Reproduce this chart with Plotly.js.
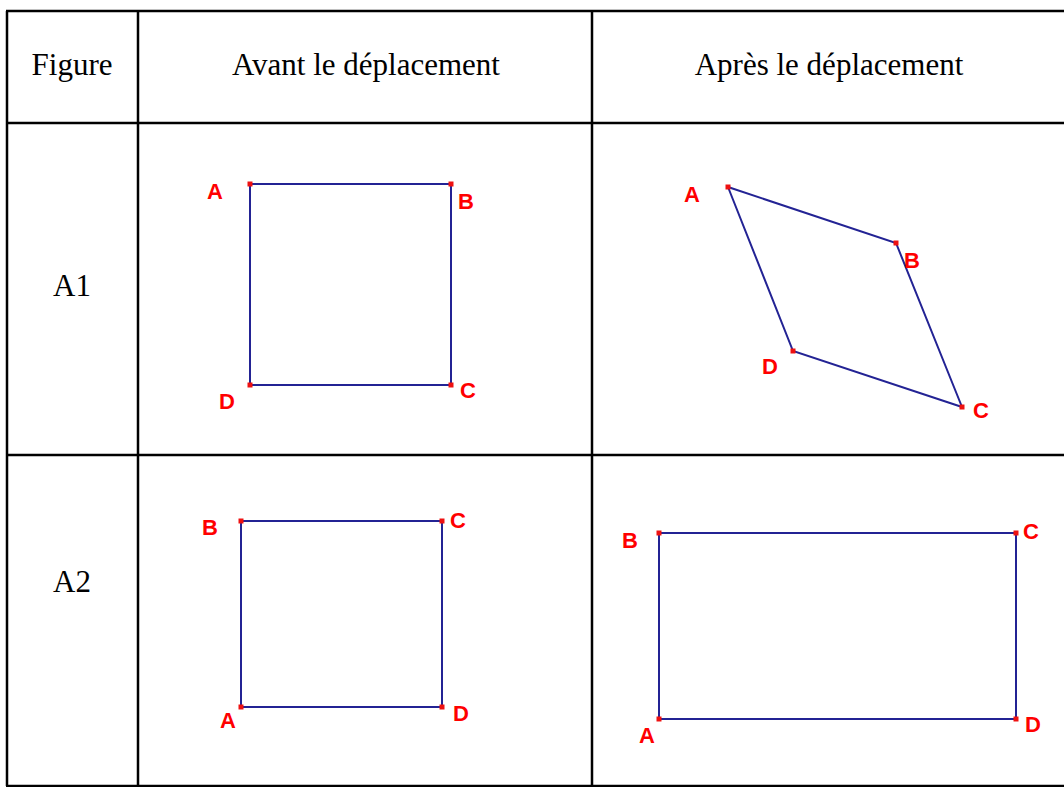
<!DOCTYPE html>
<html>
<head>
<meta charset="utf-8">
<script src="https://cdn.plot.ly/plotly-3.0.1.min.js"></script>
<style>
  html, body { margin: 0; padding: 0; background: #fff; }
  #plotArea { width: 1064px; height: 787px; }
</style>
</head>
<body>
<div id="plotArea"></div>
<script>
// Table grid (page pixels)
var colEdges = [7, 138, 592, 1064];
var rowEdges = [11, 123, 455, 786];

// Header and row labels
var headers = ["Figure", "Avant le déplacement", "Après le déplacement"];
var headerX = [72, 366, 829];
var headerY = 67;
var rowNames = ["A1", "A2"];
var rowNameY = [288, 584];

// Vertices, in order A, B, C, D
var pointNames = ["A", "B", "C", "D"];

var a1AvantX = [250, 451, 451, 250];
var a1AvantY = [184, 184, 385, 385];
var a1AvantLabelX = [215, 466, 468, 227];
var a1AvantLabelY = [193, 203, 392, 403];

var a1ApresX = [728, 896, 962, 793];
var a1ApresY = [187, 243, 407, 351];
var a1ApresLabelX = [692, 912, 981, 770];
var a1ApresLabelY = [196, 262, 412, 368];

var a2AvantX = [241, 241, 442, 442];
var a2AvantY = [707, 521, 521, 707];
var a2AvantLabelX = [228, 210, 458, 461];
var a2AvantLabelY = [722, 529, 522, 715];

var a2ApresX = [659, 659, 1016, 1016];
var a2ApresY = [719, 533, 533, 719];
var a2ApresLabelX = [647, 630, 1031, 1033];
var a2ApresLabelY = [737, 542, 533, 726];

var figures = [
    {x: a1AvantX, y: a1AvantY, lx: a1AvantLabelX, ly: a1AvantLabelY},
    {x: a1ApresX, y: a1ApresY, lx: a1ApresLabelX, ly: a1ApresLabelY},
    {x: a2AvantX, y: a2AvantY, lx: a2AvantLabelX, ly: a2AvantLabelY},
    {x: a2ApresX, y: a2ApresY, lx: a2ApresLabelX, ly: a2ApresLabelY}
];

var data = [];
figures.forEach(function(f) {
    // closed outline
    data.push({
        x: f.x.concat([f.x[0]]),
        y: f.y.concat([f.y[0]]),
        mode: "lines",
        type: "scatter",
        line: {color: "#232394", width: 2},
        hoverinfo: "skip"
    });
    // vertex dots
    data.push({
        x: f.x,
        y: f.y,
        mode: "markers",
        type: "scatter",
        marker: {color: "#ee1111", symbol: "square", size: 5},
        hoverinfo: "skip"
    });
    // vertex names
    data.push({
        x: f.lx,
        y: f.ly,
        text: pointNames.map(function(n) { return "<b>" + n + "</b>"; }),
        mode: "text",
        type: "scatter",
        textposition: "middle center",
        textfont: {family: "Liberation Sans, Arial, sans-serif", size: 22, color: "#ff0000"},
        hoverinfo: "skip"
    });
});

// header and row texts
data.push({
    x: headerX.concat([headerX[0], headerX[0]]),
    y: [headerY, headerY, headerY].concat(rowNameY),
    text: headers.concat(rowNames),
    mode: "text",
    type: "scatter",
    textposition: "middle center",
    textfont: {family: "Liberation Serif, Times New Roman, serif", size: 31, color: "#000"},
    hoverinfo: "skip"
});

// grid lines as shapes
var shapes = [];
colEdges.slice(0, 3).forEach(function(cx) {
    shapes.push({type: "line", x0: cx, x1: cx, y0: rowEdges[0], y1: rowEdges[3],
                 line: {color: "#000", width: 2.5}});
});
rowEdges.forEach(function(ry) {
    shapes.push({type: "line", x0: colEdges[0] - 1, x1: colEdges[3], y0: ry, y1: ry,
                 line: {color: "#000", width: 2.5}});
});

var layout = {
    width: 1064,
    height: 787,
    margin: {l: 0, r: 0, t: 0, b: 0},
    paper_bgcolor: "#fff",
    plot_bgcolor: "#fff",
    showlegend: false,
    xaxis: {range: [0, 1064], visible: false, fixedrange: true},
    yaxis: {range: [787, 0], visible: false, fixedrange: true},
    shapes: shapes
};

Plotly.newPlot("plotArea", data, layout, {displayModeBar: false, staticPlot: true});
</script>
</body>
</html>
